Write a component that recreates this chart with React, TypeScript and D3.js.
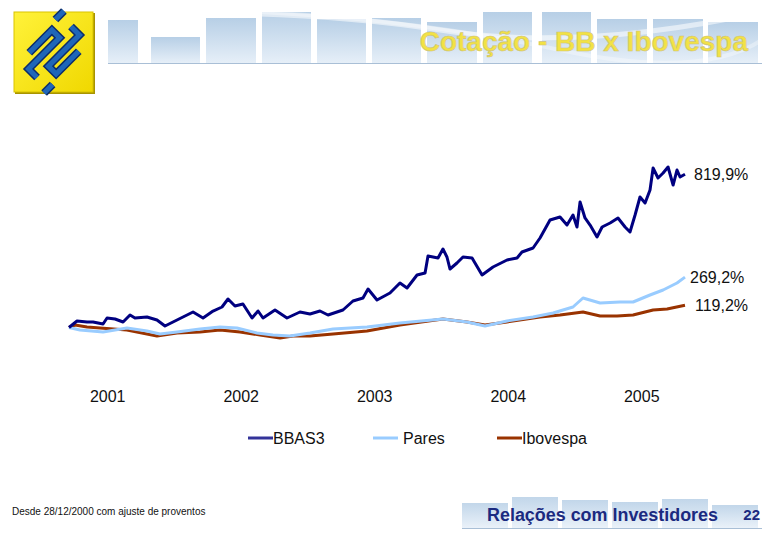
import React from "react";
import * as d3 from "d3";

// ---- data (percent change since 28/12/2000, time as decimal years) ----
const bbasYears = [2000.99, 2001.05, 2001.125, 2001.17, 2001.245, 2001.275, 2001.335, 2001.395, 2001.447, 2001.484, 2001.574, 2001.649, 2001.709, 2001.769, 2001.844, 2001.919, 2001.994, 2002.069, 2002.136, 2002.181, 2002.233, 2002.293, 2002.361, 2002.406, 2002.443, 2002.533, 2002.623, 2002.72, 2002.795, 2002.87, 2002.93, 2003.042, 2003.117, 2003.192, 2003.23, 2003.297, 2003.394, 2003.469, 2003.522, 2003.597, 2003.657, 2003.679, 2003.754, 2003.791, 2003.821, 2003.844, 2003.896, 2003.941, 2004.009, 2004.084, 2004.166, 2004.271, 2004.346, 2004.383, 2004.466, 2004.518, 2004.593, 2004.668, 2004.72, 2004.765, 2004.795, 2004.818, 2004.855, 2004.893, 2004.945, 2004.983, 2005.043, 2005.102, 2005.155, 2005.192, 2005.23, 2005.267, 2005.305, 2005.342, 2005.365, 2005.402, 2005.44, 2005.477, 2005.515, 2005.544, 2005.567, 2005.604];
const bbasValues = [0, 34.8, 29.4, 29.4, 18.7, 50.8, 45.5, 29.4, 66.8, 50.8, 56.1, 40.1, 8.0, 29.4, 56.1, 82.9, 50.8, 88.2, 109.6, 152.4, 115.0, 125.7, 50.8, 88.2, 50.8, 93.6, 50.8, 82.9, 72.2, 88.2, 66.8, 93.6, 141.7, 157.8, 205.9, 147.1, 184.5, 238.0, 211.2, 280.7, 291.4, 382.4, 371.7, 419.8, 377.0, 312.8, 344.9, 377.0, 371.7, 280.7, 323.5, 361.0, 371.7, 403.7, 425.1, 478.6, 574.9, 590.9, 548.1, 601.6, 537.4, 671.1, 585.6, 548.1, 483.9, 537.4, 558.8, 585.6, 537.4, 510.7, 601.6, 697.9, 665.8, 735.3, 852.9, 799.5, 826.2, 858.3, 762.0, 842.2, 804.8, 819.9];

const paresYears = [2000.99, 2001.072, 2001.245, 2001.424, 2001.574, 2001.672, 2001.799, 2001.971, 2002.121, 2002.248, 2002.398, 2002.518, 2002.645, 2002.795, 2002.968, 2003.222, 2003.469, 2003.791, 2003.971, 2004.106, 2004.271, 2004.466, 2004.616, 2004.765, 2004.84, 2004.968, 2005.117, 2005.215, 2005.342, 2005.44, 2005.544, 2005.604];
const paresValues = [0, -13.4, -24.1, -2.7, -18.7, -34.8, -24.1, -8.0, 2.7, -2.7, -29.4, -40.1, -45.5, -29.4, -8.0, 2.7, 24.1, 45.5, 29.4, 8.0, 34.8, 56.1, 77.5, 109.6, 157.8, 131.0, 136.4, 136.4, 173.8, 200.5, 238.0, 269.2];

const iboYears = [2000.99, 2001.035, 2001.125, 2001.222, 2001.424, 2001.649, 2001.799, 2001.971, 2002.121, 2002.271, 2002.421, 2002.571, 2002.668, 2002.795, 2002.968, 2003.222, 2003.469, 2003.791, 2003.971, 2004.106, 2004.271, 2004.518, 2004.668, 2004.84, 2004.968, 2005.095, 2005.215, 2005.365, 2005.47, 2005.604];
const iboValues = [0, 13.4, 2.7, -2.7, -13.4, -45.5, -29.4, -24.1, -13.4, -24.1, -40.1, -56.1, -45.5, -45.5, -34.8, -18.7, 13.4, 45.5, 29.4, 13.4, 29.4, 56.1, 66.8, 82.9, 61.5, 61.5, 66.8, 93.6, 98.9, 119.2];

const tickYears = [2001, 2002, 2003, 2004, 2005];
const seriesNames = ["BBAS3", "Pares", "Ibovespa"];
const seriesColors = ["#000080", "#99ccff", "#993300"];
const endLabels = ["819,9%", "269,2%", "119,2%"];

// decorative banner bars (x, width, top)
const headerBars = [[108, 30, 20], [151, 49, 37], [206, 50, 18], [262, 49, 12], [317, 49, 19], [372, 49, 18], [427, 50, 22], [483, 49, 12], [542, 49, 12], [597, 50, 19], [653, 50, 19], [708, 50, 22]];
const footerBars = [[462, 46, 503], [512, 46, 497], [562, 46, 500], [612, 46, 502], [662, 46, 499], [712, 46, 505]];

export default function App() {
  const x = d3.scaleLinear().domain([2000.99, 2005.604]).range([69, 685]);
  const y = d3.scaleLinear().domain([-100, 900]).range([346.2, 159.2]);
  const line = d3
    .line<[number, number]>()
    .x((d) => x(d[0]))
    .y((d) => y(d[1]));

  const series = [
    d3.zip(bbasYears, bbasValues) as [number, number][],
    d3.zip(paresYears, paresValues) as [number, number][],
    d3.zip(iboYears, iboValues) as [number, number][],
  ];
  const drawOrder = [2, 1, 0];
  const labelX = [694, 690, 695];
  const labelDy = [6, 6, 6];

  const legendX = [248, 373, 497];

  return (
    <svg
      width={780}
      height={540}
      style={{ position: "absolute", left: 0, top: 0, background: "#fff" }}
      fontFamily="'Liberation Sans', Arial, sans-serif"
    >
      <defs>
        <linearGradient id="barGrad" x1="0" y1="0" x2="0" y2="1">
          <stop offset="0" stopColor="#b7cfe6" />
          <stop offset="1" stopColor="#e6eff8" />
        </linearGradient>
        <linearGradient id="logoGrad" x1="0" y1="0" x2="1" y2="1">
          <stop offset="0" stopColor="#fff23a" />
          <stop offset="1" stopColor="#f0d800" />
        </linearGradient>
      </defs>
      <rect width={780} height={540} fill="#fff" />

      {/* header banner */}
      <g>
        {headerBars.map((b, i) => (
          <rect key={i} x={b[0]} y={b[2]} width={b[1]} height={63 - b[2]} fill="url(#barGrad)" />
        ))}
        <path d="M108,14 Q300,8 440,30 T762,12" fill="none" stroke="#ffffff" strokeOpacity={0.55} strokeWidth={5} />
        <path d="M260,12 Q420,20 560,50 T762,40" fill="none" stroke="#ffffff" strokeOpacity={0.35} strokeWidth={4} />
        <line x1={108} x2={762} y1={63.5} y2={63.5} stroke="#a9bfd6" strokeWidth={1} />
        <text
          x={748}
          y={51}
          textAnchor="end"
          fontSize={28}
          fontWeight="bold"
          fill="#f2e245"
          stroke="#cfc27a"
          strokeWidth={0.6}
        >
          Cotação - BB x Ibovespa
        </text>
      </g>

      {/* logo */}
      <g>
        <rect x={15} y={13} width={80} height={81} fill="#a89400" />
        <rect x={14} y={12} width={79} height={80} fill="url(#logoGrad)" stroke="#d9c400" strokeWidth={1} />
        <g transform="translate(54,52) rotate(-45)">
          {["M -30 6 L -30 -6 L 14 -6 L 14 -17 L -18 -17", "M 30 -6 L 30 6 L -14 6 L -14 17 L 18 17", "M 24 -22 L 36 -22", "M -24 22 L -36 22"].map((d, i) => (
            <g key={i}>
              <path d={d} fill="none" stroke="#0b2c6b" strokeWidth={8} strokeLinejoin="miter" />
              <path d={d} fill="none" stroke="#1f66b8" strokeWidth={5} strokeLinejoin="miter" />
            </g>
          ))}
        </g>
      </g>

      {/* series */}
      {drawOrder.map((i) => (
        <path
          key={i}
          d={line(series[i]) || ""}
          fill="none"
          stroke={seriesColors[i]}
          strokeWidth={3}
          strokeLinejoin="round"
        />
      ))}

      {/* end labels */}
      {series.map((s, i) => (
        <text key={i} x={labelX[i]} y={y(s[s.length - 1][1]) + labelDy[i]} fontSize={16} fill="#111">
          {endLabels[i]}
        </text>
      ))}

      {/* year labels */}
      {tickYears.map((t) => (
        <text key={t} x={x(t + 0.28)} y={402} fontSize={16} textAnchor="middle" fill="#111">
          {t}
        </text>
      ))}

      {/* legend */}
      {seriesNames.map((n, i) => (
        <g key={n}>
          <line x1={legendX[i]} x2={legendX[i] + 25} y1={438} y2={438} stroke={i === 0 ? "#333399" : seriesColors[i]} strokeWidth={3} />
          <text x={legendX[i] + 25 + (i === 1 ? 5 : 0)} y={444} fontSize={16} fill="#111">
            {n}
          </text>
        </g>
      ))}

      {/* footer */}
      <text x={12} y={515} fontSize={10} fill="#111">
        Desde 28/12/2000 com ajuste de proventos
      </text>
      <g>
        {footerBars.map((b, i) => (
          <rect key={i} x={b[0]} y={b[2]} width={b[1]} height={528 - b[2]} fill="url(#barGrad)" opacity={0.85} />
        ))}
        <line x1={462} x2={762} y1={528.5} y2={528.5} stroke="#a9bfd6" strokeWidth={1} />
        <text x={487} y={521} fontSize={18} fontWeight="bold" fill="#1b2a80" textLength={231} lengthAdjust="spacingAndGlyphs">
          Relações com Investidores
        </text>
        <text x={760} y={520} fontSize={15} fontWeight="bold" fill="#1b2a80" textAnchor="end">
          22
        </text>
      </g>
    </svg>
  );
}
